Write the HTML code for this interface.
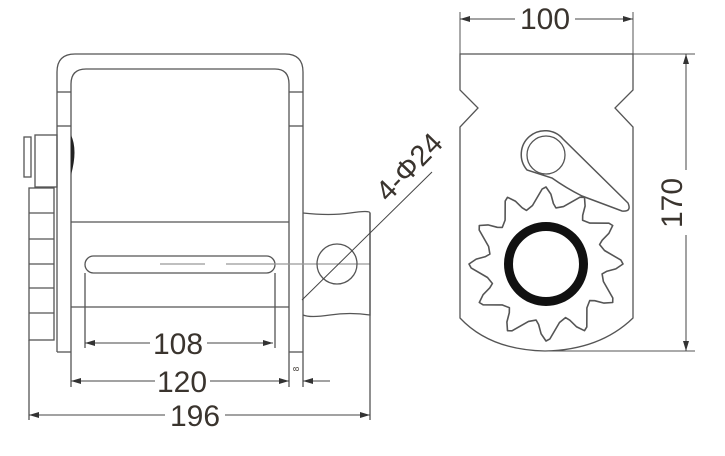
<!DOCTYPE html>
<html><head><meta charset="utf-8"><style>
html,body{margin:0;padding:0;background:#fff;}
svg{display:block;}
text{font-family:"Liberation Sans",Arial,sans-serif;fill:#3a342e;}
</style></head><body>
<svg width="725" height="456" viewBox="0 0 725 456" xmlns="http://www.w3.org/2000/svg">
<defs>
<marker id="a" viewBox="0 0 10 6" refX="10" refY="3" markerWidth="10" markerHeight="6" orient="auto-start-reverse" markerUnits="userSpaceOnUse"><path d="M0,0 L10,3 L0,6 z" fill="#333"/></marker>
</defs>
<g fill="none" stroke="#555" stroke-width="1.3">
<path d="M57,352 V72 Q57,54 75,54 H285 Q303,54 303,72 V352"/>
<path d="M71,352 V84 Q71,69 86,69 H275 Q289,69 289,84 V387"/>
<line x1="303" y1="352" x2="303" y2="387"/>
<line x1="57" y1="352" x2="71" y2="352"/>
<line x1="289" y1="352" x2="303" y2="352"/>
<line x1="57" y1="92" x2="71" y2="92"/><line x1="289" y1="92" x2="303" y2="92"/>
<line x1="57" y1="126" x2="71" y2="126"/><line x1="289" y1="126" x2="303" y2="126"/>
<line x1="71" y1="222" x2="289" y2="222"/>
<line x1="71" y1="307" x2="289" y2="307"/>
<rect x="85" y="256" width="190" height="17" rx="8.5"/>
<line x1="160" y1="264" x2="205" y2="264" stroke="#999"/>
<line x1="226" y1="264" x2="370" y2="264" stroke="#999"/>
<rect x="35" y="135" width="22" height="52"/>
<rect x="24" y="137" width="7" height="40"/>
<rect x="29" y="188" width="25" height="152"/>
<line x1="29" y1="213" x2="54" y2="213"/><line x1="29" y1="239" x2="54" y2="239"/>
<line x1="29" y1="264" x2="54" y2="264"/><line x1="29" y1="288" x2="54" y2="288"/>
<line x1="29" y1="313" x2="54" y2="313"/>
<path d="M303,213 Q330,216 350,213 T370,213 V315 Q350,312 330,315 T303,315"/>
<line x1="370" y1="213" x2="370" y2="420"/>
<circle cx="337" cy="264" r="20"/>
<line x1="29" y1="340" x2="29" y2="420"/>
<line x1="85" y1="273" x2="85" y2="348"/>
<line x1="275" y1="273" x2="275" y2="348"/>
<line x1="71" y1="352" x2="71" y2="387"/>
</g>
<path d="M71,135 Q78,150 71,175 Z" fill="#222"/>
<g stroke="#444" stroke-width="1" fill="none">
<line x1="302" y1="300" x2="432" y2="172"/>
<line x1="85" y1="343" x2="150" y2="343" marker-start="url(#a)"/>
<line x1="207" y1="343" x2="273" y2="343" marker-end="url(#a)"/>
<line x1="71" y1="381" x2="155" y2="381" marker-start="url(#a)"/>
<line x1="210" y1="381" x2="289" y2="381" marker-end="url(#a)"/>
<line x1="303" y1="381" x2="330" y2="381" marker-start="url(#a)"/>
<line x1="29" y1="415" x2="165" y2="415" marker-start="url(#a)"/>
<line x1="225" y1="415" x2="370" y2="415" marker-end="url(#a)"/>
</g>
<text x="178" y="354" font-size="30" text-anchor="middle">108</text>
<text x="182" y="392" font-size="30" text-anchor="middle">120</text>
<text x="195" y="426" font-size="30" text-anchor="middle">196</text>
<text x="299" y="375" font-size="8" text-anchor="middle" transform="rotate(-90 296 372)">8</text>
<text x="0" y="0" font-size="29" transform="translate(388,203) rotate(-46)">4-Φ24</text>

<g fill="none" stroke="#555" stroke-width="1.3">
<path d="M460,54 H633 V90 L615,108 L633,127 V318 Q600,350 545,351 Q490,350 460,318 V127 L478,108 L460,90 Z"/>
<line x1="633" y1="54" x2="695" y2="54" stroke-width="1"/>
<line x1="545" y1="351" x2="695" y2="351" stroke-width="1"/>
<line x1="460" y1="12" x2="460" y2="54" stroke-width="1"/>
<line x1="633" y1="12" x2="633" y2="54" stroke-width="1"/>
<path d="M527,170 A22,22 0 1 1 563,139 L628,203 Q632,212 622,211 L582,196 Q566,188 552,178 Z" stroke-width="1.5"/>
<circle cx="546" cy="155" r="19" stroke-width="1.3"/>
<polygon id="g" stroke-width="1.6" stroke-linejoin="round" points=""/>
</g>
<circle cx="546" cy="264" r="37.5" fill="none" stroke="#111" stroke-width="9"/>
<g stroke="#444" stroke-width="1" fill="none">
<line x1="460" y1="19" x2="515" y2="19" marker-start="url(#a)"/>
<line x1="575" y1="19" x2="633" y2="19" marker-end="url(#a)"/>
<line x1="686" y1="54" x2="686" y2="170" marker-start="url(#a)"/>
<line x1="686" y1="235" x2="686" y2="351" marker-end="url(#a)"/>
</g>
<text x="545" y="29" font-size="30" text-anchor="middle">100</text>
<text x="0" y="0" font-size="30" text-anchor="middle" transform="translate(682,203) rotate(-90)">170</text>
</svg>
<script>
(function(){var cx=546,cy=264,p=[];for(var i=0;i<12;i++){var a=i*30+10;
function pt(r,d){var t=d*Math.PI/180;p.push((cx+r*Math.cos(t)).toFixed(1)+","+(cy+r*Math.sin(t)).toFixed(1));}
pt(57,a);pt(60,a+7);pt(75,a+17);pt(77,a+20);pt(70,a+24);pt(61,a+27);}
document.getElementById("g").setAttribute("points",p.join(" "));})();
</script>
</body></html>
